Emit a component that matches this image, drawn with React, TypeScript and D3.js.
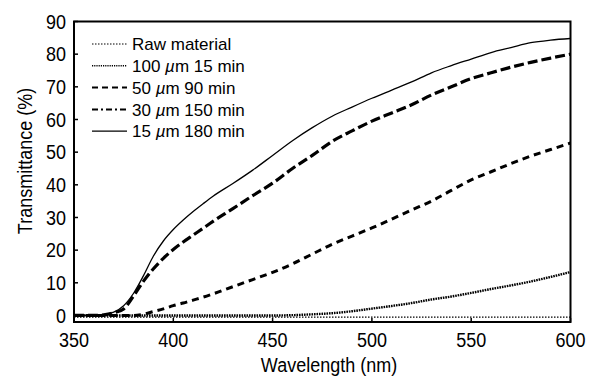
import React from 'react';
import { scaleLinear, line, curveMonotoneX } from 'd3';

const wavelengths = [350, 360, 365, 370, 375, 380, 385, 390, 395, 400, 405, 410, 415, 420, 430, 440, 450, 460, 470, 480, 490, 500, 510, 520, 530, 540, 550, 560, 570, 580, 590, 600];

const rawMaterial = [-0.5, -0.5, -0.5, -0.5, -0.5, -0.5, -0.5, -0.5, -0.5, -0.5, -0.5, -0.5, -0.5, -0.5, -0.5, -0.5, -0.5, -0.5, -0.5, -0.5, -0.5, -0.5, -0.5, -0.5, -0.5, -0.5, -0.5, -0.5, -0.5, -0.5, -0.5, -0.5];
const um100 = [0, 0, 0, 0, 0, 0, 0, 0, 0, 0, 0, 0, 0, 0, 0, 0, 0, 0.1, 0.35, 0.7, 1.3, 2.1, 2.9, 3.8, 4.9, 5.8, 6.9, 8.1, 9.2, 10.4, 11.8, 13.3];
const um50 = [0, 0, 0, 0, 0, 0, 0.4, 1.2, 2.0, 3.0, 3.8, 4.7, 5.6, 6.6, 8.8, 11.0, 13.2, 15.8, 18.8, 21.8, 24.3, 26.8, 29.5, 32.3, 35.0, 38.3, 41.5, 44.0, 46.5, 48.8, 50.8, 52.8];
const um30 = [0, 0, 0.2, 0.8, 2.0, 6.0, 10.5, 14.3, 17.5, 20.2, 22.5, 24.6, 26.7, 28.8, 32.7, 36.7, 40.5, 45.0, 49.0, 53.3, 56.5, 59.5, 62.0, 64.5, 67.5, 70.0, 72.5, 74.3, 76.0, 77.5, 78.8, 80.0];
const um15 = [0, 0, 0.2, 1.0, 3.0, 6.8, 12.2, 18.2, 22.8, 26.3, 29.2, 31.8, 34.2, 36.5, 40.4, 44.5, 49.0, 53.5, 57.5, 61.0, 63.8, 66.5, 69.0, 71.5, 74.3, 76.5, 78.5, 80.5, 82.0, 83.5, 84.3, 84.8];

const xTicks = [350, 400, 450, 500, 550, 600];
const yTicks = [0, 10, 20, 30, 40, 50, 60, 70, 80, 90];

const series = [
  { name: 'Raw material', thickness: '', values: rawMaterial, width: 1.2, dash: '1.5,1.5', legendDash: '1.5,1.5', legendWidth: 1 },
  { name: '100', thickness: 'm 15 min', values: um100, width: 2.4, dash: '1.6,0.9', legendDash: '1.2,1', legendWidth: 1.5 },
  { name: '50', thickness: 'm 90 min', values: um50, width: 3, dash: '7,5', legendDash: '6,4', legendWidth: 2 },
  { name: '30', thickness: 'm 150 min', values: um30, width: 3.2, dash: '10,4', legendDash: '6,3,2,3', legendWidth: 2 },
  { name: '15', thickness: 'm 180 min', values: um15, width: 1.3, dash: 'none', legendDash: 'none', legendWidth: 1.3 },
];

const W = 604;
const H = 390;
const left = 74;
const right = 570.5;
const top = 21.5;
const bottom = 322;

const font = '"Liberation Sans", Arial, sans-serif';

// labels in the reference look a bit taller than Arial, so stretch them vertically
const tall = (px: number, py: number) => `translate(${px},${py}) scale(1,1.12)`;

export default function App() {
  const x = scaleLinear().domain([350, 600]).range([left, right]);
  const y = scaleLinear().domain([-2, 90]).range([bottom, top]);

  const makeLine = (vals: number[]) =>
    line<number>()
      .x((_, i) => x(wavelengths[i]))
      .y(d => y(d))
      .curve(curveMonotoneX)(vals) || '';

  return (
    <svg width={W} height={H} style={{ position: 'absolute', left: 0, top: 0, background: '#fff' }}>
      <rect x={0} y={0} width={W} height={H} fill="#fff" />
      <g fill="none" stroke="#000">
        {series.map(s => (
          <path key={s.name + s.thickness} d={makeLine(s.values)} strokeWidth={s.width}
            strokeDasharray={s.dash} />
        ))}
      </g>
      <rect x={left} y={top} width={right - left} height={bottom - top} fill="none" stroke="#000" strokeWidth={2} />
      {yTicks.map(t => (
        <g key={'y' + t}>
          <line x1={left} x2={left + 4} y1={y(t)} y2={y(t)} stroke="#000" strokeWidth={1.5} />
          <text transform={tall(left - 8, y(t))} dy="0.36em" textAnchor="end" fontSize={18} fontFamily={font}>{t}</text>
        </g>
      ))}
      {xTicks.map(t => (
        <g key={'x' + t}>
          <line x1={x(t)} x2={x(t)} y1={bottom} y2={bottom - 4} stroke="#000" strokeWidth={1.5} />
          <text transform={tall(x(t), 347)} textAnchor="middle" fontSize={18} fontFamily={font}>{t}</text>
        </g>
      ))}
      <text transform={tall(329, 372)} textAnchor="middle" fontSize={18} fontFamily={font}>Wavelength (nm)</text>
      <text transform={`translate(32,161) rotate(-90) scale(1,1.08)`} textAnchor="middle" fontSize={18} fontFamily={font}>Transmittance  (%)</text>
      {series.map((s, i) => {
        const cy = 44 + i * 21.8;
        return (
          <g key={'lg' + i}>
            <line x1={92} x2={127} y1={cy} y2={cy} stroke="#000" strokeWidth={s.legendWidth} strokeDasharray={s.legendDash} />
            <text x={132} y={cy} dy="0.36em" fontSize={17} fontFamily={font}>
              {s.thickness === '' ? s.name : (
                <>
                  {s.name + ' '}
                  <tspan fontStyle="italic">µ</tspan>
                  {s.thickness}
                </>
              )}
            </text>
          </g>
        );
      })}
    </svg>
  );
}
